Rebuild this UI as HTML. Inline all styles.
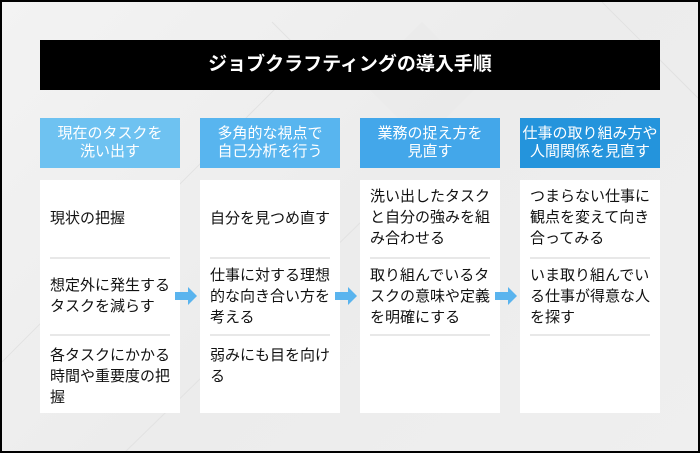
<!DOCTYPE html>
<html><head><meta charset="utf-8"><style>
*{margin:0;padding:0;box-sizing:border-box}
body{width:700px;height:453px;overflow:hidden;background:#000;font-family:"Liberation Sans","Noto Sans CJK JP",sans-serif}
#f{position:absolute;left:2px;top:2px;width:696px;height:449px;background:linear-gradient(135deg,#f3f3f3,#ececec 50%,#efefef);overflow:hidden}
.a{position:absolute}
.title{left:40px;top:40px;width:620px;height:50px;background:#000;color:#fff;font-size:19px;font-weight:bold;text-align:center;line-height:50px}
.h{top:118px;width:140px;height:50px;color:#fff;font-size:15px;text-align:center;line-height:18px;padding-top:7px;white-space:nowrap}
.c{top:180px;width:140px;height:233px;background:#fff}
.t{font-size:15px;line-height:21px;color:#111;width:130px;white-space:nowrap}
.d{height:2px;width:120px;background:#e8e8e8}
</style></head><body><div id="f"><svg style="position:absolute;left:0;top:0" width="696" height="449"><g stroke="#e2e2e2" stroke-width="1" fill="none"><path d="M0 360 L300 60 M120 453 L400 180 M600 0 L700 100 M270 20 L330 80"/></g><polygon points="420,20 480,80 420,140 360,80" fill="#e9e9e9" opacity=".6"/></svg></div>
<div class="a title">ジョブクラフティングの導入手順</div>
<div class="a h" style="left:40px;background:#6ec2f1">現在のタスクを<br>洗い出す</div>
<div class="a h" style="left:200px;background:#58b5ef">多角的な視点で<br>自己分析を行う</div>
<div class="a h" style="left:360px;background:#43a7ea">業務の捉え方を<br>見直す</div>
<div class="a h" style="left:520px;background:#2494dc">仕事の取り組み方や<br>人間関係を見直す</div>
<div class="a c" style="left:40px"></div><div class="a c" style="left:200px"></div><div class="a c" style="left:360px"></div><div class="a c" style="left:520px"></div>
<div class="a d" style="left:50px;top:257px"></div><div class="a d" style="left:50px;top:334px"></div>
<div class="a d" style="left:210px;top:257px"></div><div class="a d" style="left:210px;top:334px"></div>
<div class="a d" style="left:370px;top:257px"></div><div class="a d" style="left:370px;top:334px"></div>
<div class="a d" style="left:530px;top:257px"></div><div class="a d" style="left:530px;top:334px"></div>
<div class="a t" style="left:50px;top:208px">現状の把握</div>
<div class="a t" style="left:50px;top:275px">想定外に発生する<br>タスクを減らす</div>
<div class="a t" style="left:50px;top:345px">各タスクにかかる<br>時間や重要度の把<br>握</div>
<div class="a t" style="left:210px;top:208px">自分を見つめ直す</div>
<div class="a t" style="left:210px;top:265px">仕事に対する理想<br>的な向き合い方を<br>考える</div>
<div class="a t" style="left:210px;top:345px">弱みにも目を向け<br>る</div>
<div class="a t" style="left:370px;top:186px">洗い出したタスク<br>と自分の強みを組<br>み合わせる</div>
<div class="a t" style="left:370px;top:265px">取り組んでいるタ<br>スクの意味や定義<br>を明確にする</div>
<div class="a t" style="left:530px;top:186px">つまらない仕事に<br>観点を変えて向き<br>合ってみる</div>
<div class="a t" style="left:530px;top:265px">いま取り組んでい<br>る仕事が得意な人<br>を探す</div>
<svg class="a" style="left:0;top:0" width="700" height="453"><g fill="#5ab4ee">
<polygon points="175,292 188,292 188,287 197,296 188,305 188,300 175,300"/>
<polygon points="335,292 348,292 348,287 357,296 348,305 348,300 335,300"/>
<polygon points="495,292 508,292 508,287 517,296 508,305 508,300 495,300"/>
</g></svg>
</body></html>
